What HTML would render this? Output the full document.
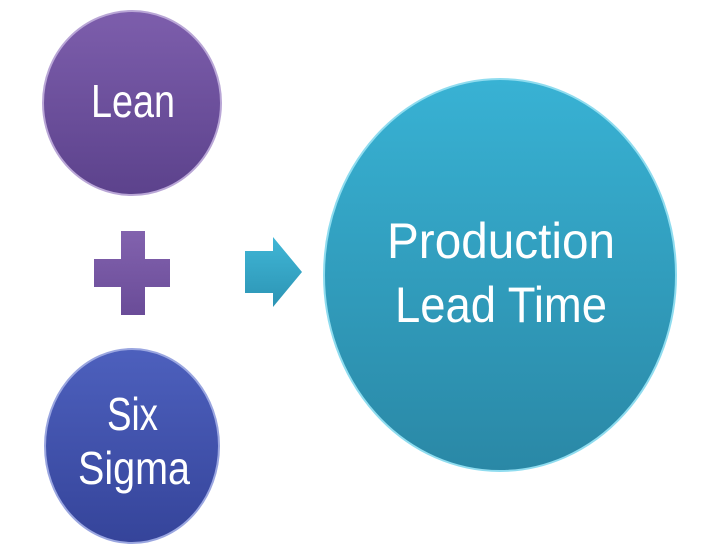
<!DOCTYPE html>
<html><head><meta charset="utf-8"><style>html,body{margin:0;padding:0;background:#fff;}svg{display:block}</style></head>
<body>
<svg width="720" height="550" viewBox="0 0 720 550" xmlns="http://www.w3.org/2000/svg" font-family="Liberation Sans, sans-serif">
<defs>
<linearGradient id="gp" x1="0" y1="0" x2="0" y2="1"><stop offset="0" stop-color="#7d5eac"/><stop offset="1" stop-color="#5c428c"/></linearGradient>
<linearGradient id="gb" x1="0" y1="0" x2="0" y2="1"><stop offset="0" stop-color="#4d60bd"/><stop offset="1" stop-color="#35449a"/></linearGradient>
<linearGradient id="gt" x1="0" y1="0" x2="0" y2="1"><stop offset="0" stop-color="#38b2d4"/><stop offset="1" stop-color="#2a88a6"/></linearGradient>
<linearGradient id="ga" x1="0" y1="0" x2="0" y2="1"><stop offset="0" stop-color="#40b6d6"/><stop offset="1" stop-color="#2c94b4"/></linearGradient>
<linearGradient id="gx" x1="0" y1="0" x2="0" y2="1"><stop offset="0" stop-color="#8262ae"/><stop offset="1" stop-color="#6a4c98"/></linearGradient>
</defs>
<ellipse cx="132" cy="103" rx="89" ry="92" fill="url(#gp)" stroke="#b9a6d6" stroke-width="2"/>
<ellipse cx="132" cy="446" rx="87" ry="97" fill="url(#gb)" stroke="#9aa6e0" stroke-width="2"/>
<ellipse cx="500" cy="275" rx="176" ry="196" fill="url(#gt)" stroke="#8fdcef" stroke-width="2"/>
<path d="M121 231H145V259H170V287H145V315H121V287H94V259H121Z" fill="url(#gx)"/>
<path d="M245 251H273V237L302 272L273 307V293H245Z" fill="url(#ga)"/>
<g fill="#fff" font-size="46">
<text x="91" y="117" textLength="84" lengthAdjust="spacingAndGlyphs">Lean</text>
<text x="107" y="430" textLength="51" lengthAdjust="spacingAndGlyphs">Six</text>
<text x="78" y="484" textLength="112" lengthAdjust="spacingAndGlyphs">Sigma</text>
<text x="387" y="258" font-size="50" textLength="228" lengthAdjust="spacingAndGlyphs">Production</text>
<text x="395" y="322" font-size="50" textLength="212" lengthAdjust="spacingAndGlyphs">Lead Time</text>
</g>
</svg>
</body></html>
